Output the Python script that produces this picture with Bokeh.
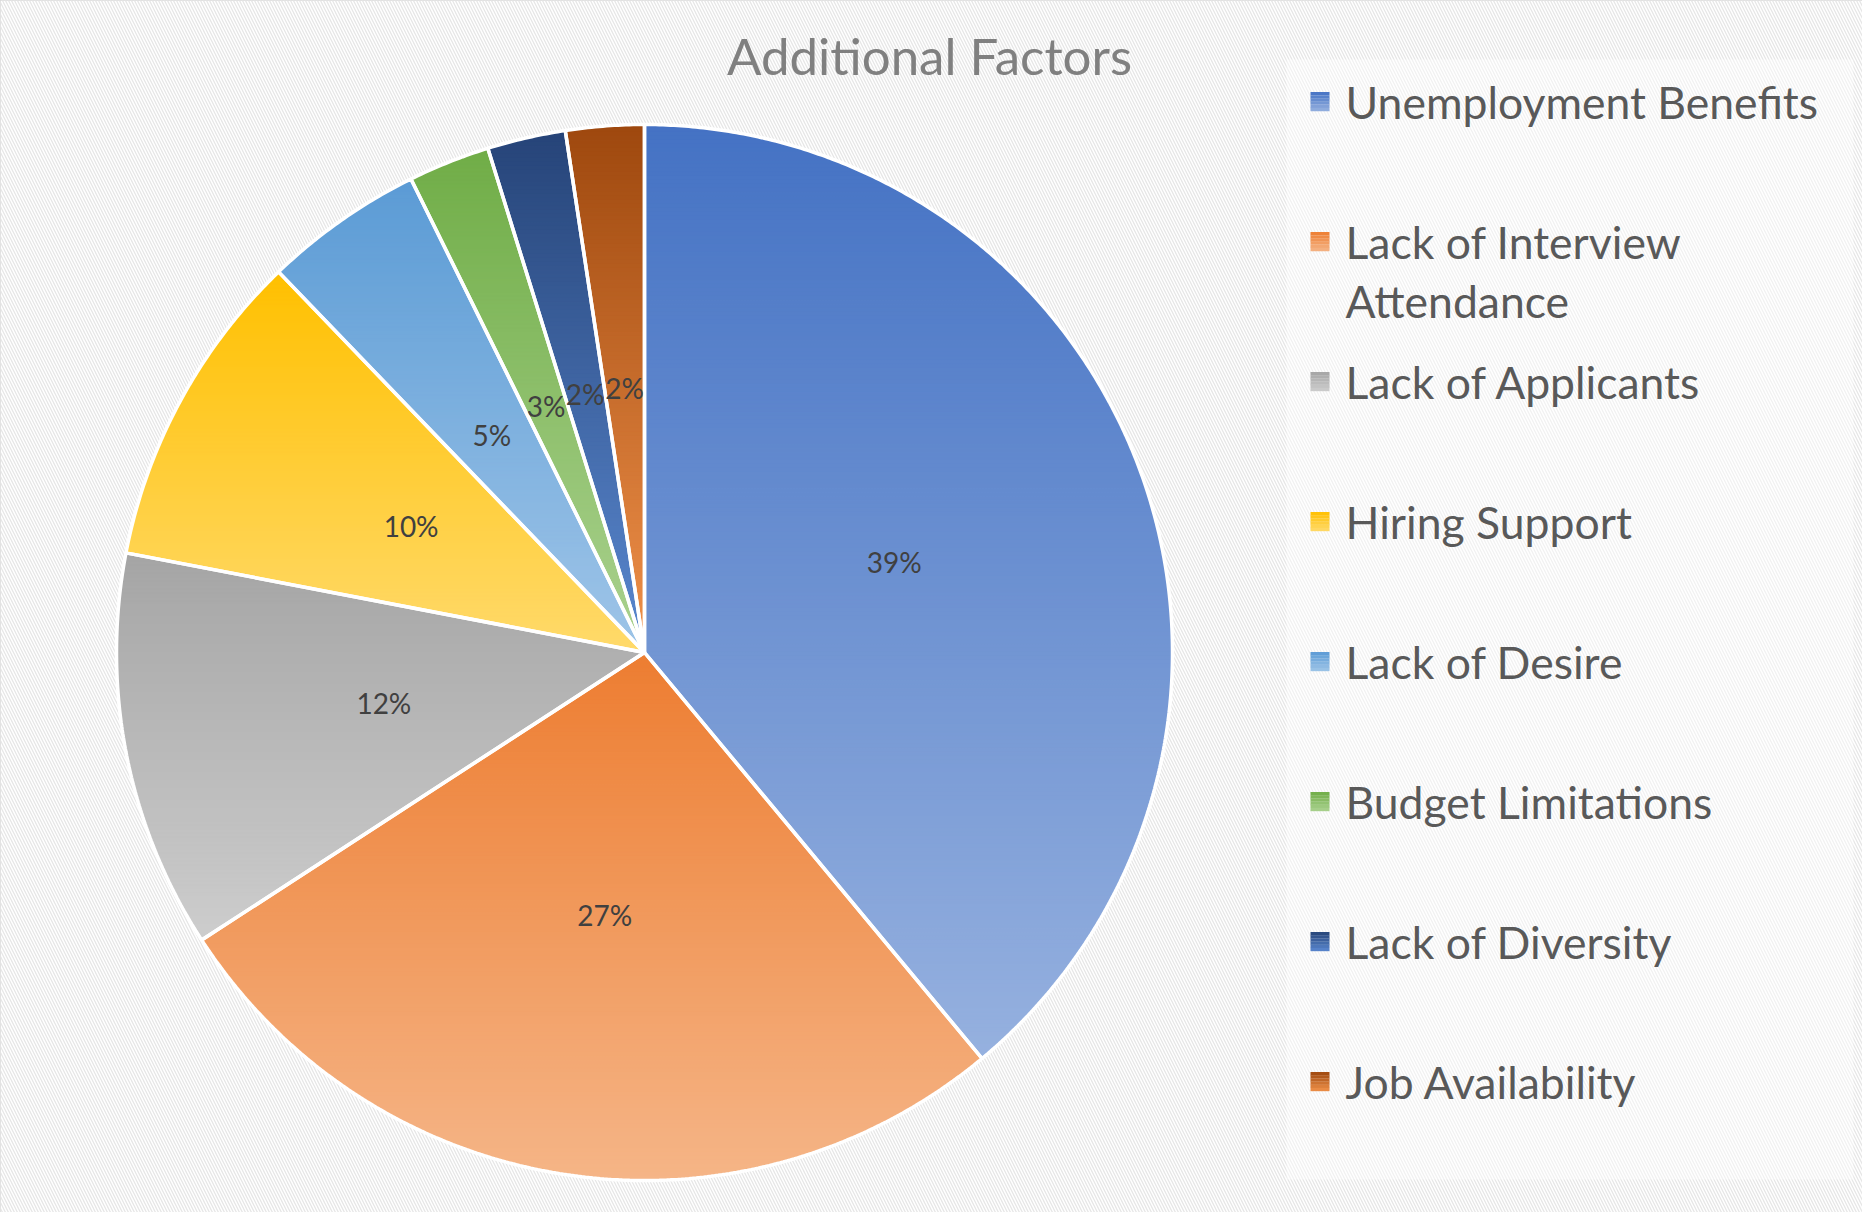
import math
import textwrap
from bokeh.plotting import figure
from bokeh.models import Range1d
from bokeh.core.properties import value
from bokeh.embed import file_html
from bokeh.resources import INLINE

# ---------------- data ----------------
title_text = "Additional Factors"
categories = [
    "Unemployment Benefits",
    "Lack of Interview Attendance",
    "Lack of Applicants",
    "Hiring Support",
    "Lack of Desire",
    "Budget Limitations",
    "Lack of Diversity",
    "Job Availability",
]
shares = [39.0, 26.9, 12.2, 9.8, 4.9, 2.5, 2.4, 2.4]
pct_labels = ["39%", "27%", "12%", "10%", "5%", "3%", "2%", "2%"]
top_colors = ["#4472C4", "#ED7D31", "#A5A5A5", "#FFC000",
              "#5B9BD5", "#70AD47", "#264478", "#9E480E"]
bottom_colors = ["#96B1DF", "#F5B587", "#CDCDCD", "#FFDA6C",
                 "#9FC5E8", "#ABD290", "#5A88D0", "#F0914A"]

# ---------------- layout ----------------
W, H = 1862, 1212
CX, CY, R = 644, H - 652, 528
FONT = value("Lato")


def hex2rgb(h):
    h = h.lstrip("#")
    return tuple(int(h[i:i + 2], 16) for i in (0, 2, 4))


def mix(c0, c1, t):
    a, b = hex2rgb(c0), hex2rgb(c1)
    return "#%02x%02x%02x" % tuple(int(round(a[i] + (b[i] - a[i]) * t)) for i in range(3))


def cut(poly, y0, keep_above):
    out = []
    n = len(poly)
    for i in range(n):
        cur, prev = poly[i], poly[i - 1]
        cin = cur[1] >= y0 if keep_above else cur[1] <= y0
        pin = prev[1] >= y0 if keep_above else prev[1] <= y0
        if cin != pin:
            t = (y0 - prev[1]) / (cur[1] - prev[1])
            out.append((prev[0] + t * (cur[0] - prev[0]), y0))
        if cin:
            out.append(cur)
    return out


p = figure(width=W, height=H, x_range=Range1d(0, W), y_range=Range1d(0, H),
           min_border=0, toolbar_location=None, output_backend="svg",
           x_axis_location=None, y_axis_location=None)
p.xgrid.visible = False
p.ygrid.visible = False
p.background_fill_color = "white"
p.border_fill_color = "white"
p.outline_line_color = "#d9d9d9"
p.outline_line_width = 2

# hatched chart background
p.quad(left=[0], right=[W], bottom=[0], top=[H], fill_color="white",
       hatch_pattern="\\", hatch_color="#e6e6e6", hatch_scale=6, hatch_weight=1.3,
       line_color=None)
# legend box (lighter)
p.quad(left=[1286], right=[1853], bottom=[H - 1179], top=[H - 59],
       fill_color="white", fill_alpha=0.45, line_color=None)

total = sum(shares)
band_xs, band_ys, band_cols = [], [], []
out_xs, out_ys = [], []
lab_x, lab_y = [], []
a0 = 0.0
for i, s in enumerate(shares):
    a1 = a0 + s / total * 360.0
    steps = max(4, int((a1 - a0) / 0.4))
    poly = [(CX, CY)]
    for k in range(steps + 1):
        th = math.radians(a0 + (a1 - a0) * k / steps)
        poly.append((CX + R * math.sin(th), CY + R * math.cos(th)))
    out_xs.append([q[0] for q in poly])
    out_ys.append([q[1] for q in poly])
    ymax = max(q[1] for q in poly)
    ymin = min(q[1] for q in poly)
    bh = 4.0
    nb = max(1, int(math.ceil((ymax - ymin) / bh)))
    for k in range(nb):
        yt = ymax - k * bh + 0.3
        yb = ymax - (k + 1) * bh - 0.3
        piece = cut(cut(poly, yt, False), yb, True)
        if len(piece) < 3:
            continue
        band_xs.append([q[0] for q in piece])
        band_ys.append([q[1] for q in piece])
        band_cols.append(mix(top_colors[i], bottom_colors[i], (k + 0.5) / nb))
    mid = math.radians((a0 + a1) / 2)
    lab_x.append(CX + 0.503 * R * math.sin(mid))
    lab_y.append(CY + 0.503 * R * math.cos(mid))
    a0 = a1

p.patches(band_xs, band_ys, fill_color=band_cols, line_color=band_cols, line_width=1)
p.patches(out_xs, out_ys, fill_alpha=0, line_color="white", line_width=3.5)

p.text(x=lab_x, y=lab_y, text=pct_labels, text_font=FONT, text_font_size="28px",
       text_color="#404040", text_align="center", text_baseline="middle")

# title
p.text(x=[929], y=[H - 55], text=[title_text], text_font=FONT, text_font_size="51px",
       text_color="#808080", text_align="center", text_baseline="middle")

# legend
LX, LY0, DY, SQ = 1310, 101, 140, 19
lx, ly, lt = [], [], []
sq_l, sq_r, sq_b, sq_t, sq_c = [], [], [], [], []
for i, name in enumerate(categories):
    yc = LY0 + DY * i
    for j, line in enumerate(textwrap.wrap(name, 22)):
        lx.append(LX + 35)
        ly.append(H - (yc + 59 * j))
        lt.append(line)
    nbands = 6
    for k in range(nbands):
        top = H - (yc - SQ / 2) - k * SQ / nbands
        sq_l.append(LX)
        sq_r.append(LX + SQ)
        sq_t.append(top)
        sq_b.append(top - SQ / nbands - 0.2)
        sq_c.append(mix(top_colors[i], bottom_colors[i], (k + 0.5) / nbands))
p.quad(left=sq_l, right=sq_r, bottom=sq_b, top=sq_t, fill_color=sq_c, line_color=None)
p.text(x=lx, y=ly, text=lt, text_font=FONT, text_font_size="44.5px",
       text_color="#595959", text_align="left", text_baseline="middle")

open("out.html", "w").write(file_html(p, INLINE))
